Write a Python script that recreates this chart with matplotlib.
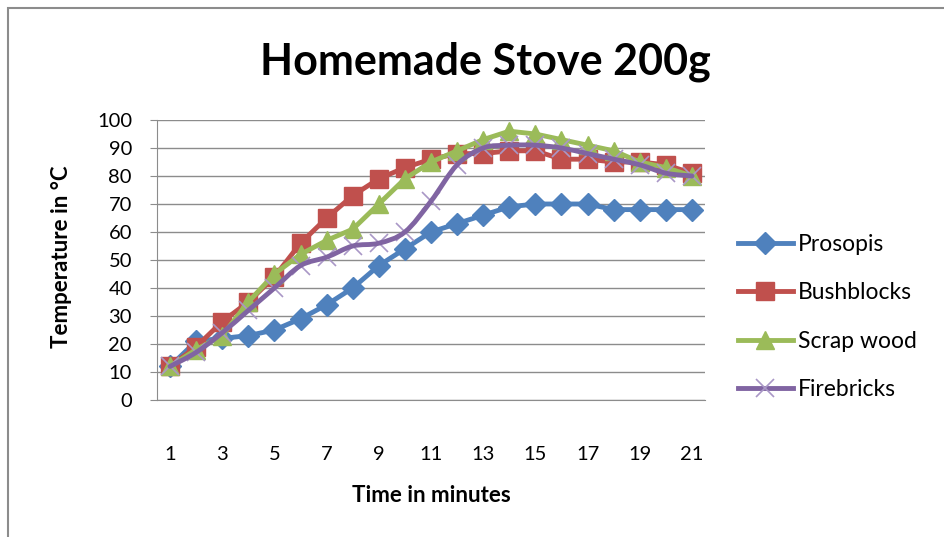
import numpy as np
import matplotlib
matplotlib.use("Agg")
import matplotlib.pyplot as plt
from matplotlib.path import Path
from matplotlib.patches import PathPatch, Rectangle

plt.rcParams['font.family'] = ['Lato', 'DejaVu Sans']

minutes = list(range(1, 22))
prosopis = [12, 21, 22, 23, 25, 29, 34, 40, 48, 54, 60, 63, 66, 69, 70, 70, 70, 68, 68, 68, 68]
bushblocks = [12, 19, 28, 35, 44, 56, 65, 73, 79, 83, 86, 88, 88, 89, 89, 86, 86, 85, 85, 84, 81]
scrap_wood = [12, 18, 23, 35, 45, 52, 57, 61, 70, 79, 85, 89, 93, 96, 95, 93, 91, 89, 85, 83, 80]
firebricks = [12, 17, 24, 32, 40, 48, 51, 55, 56, 60, 71, 84, 90, 91, 91, 90, 88, 86, 84, 81, 80]
xtick_labels = [str(m) for m in minutes[::2]]

c_blue = '#4F81BD'
c_red = '#C0504D'
c_green = '#9BBB59'
c_purple = '#8064A2'
c_xmark = '#A997C6'


def smooth_path(x, y, t=1/6):
    # catmull-rom style bezier, roughly what excel does for "smoothed line"
    x = np.asarray(x, float)
    y = np.asarray(y, float)
    verts = [(x[0], y[0])]
    codes = [Path.MOVETO]
    n = len(x)
    for i in range(n - 1):
        p0 = (x[max(i - 1, 0)], y[max(i - 1, 0)])
        p1 = (x[i], y[i])
        p2 = (x[i + 1], y[i + 1])
        p3 = (x[min(i + 2, n - 1)], y[min(i + 2, n - 1)])
        c1 = (p1[0] + (p2[0] - p0[0]) * t, p1[1] + (p2[1] - p0[1]) * t)
        c2 = (p2[0] - (p3[0] - p1[0]) * t, p2[1] - (p3[1] - p1[1]) * t)
        verts += [c1, c2, p2]
        codes += [Path.CURVE4] * 3
    return Path(verts, codes)


fig = plt.figure(figsize=(9.45, 5.37), dpi=100)
ax = fig.add_axes([157/945, 1 - 400/537, (705-157)/945, 280/537])

lw = 3.5
ax.plot(minutes, prosopis, color=c_blue, lw=lw, marker='D', ms=11,
        label='Prosopis', zorder=3)
ax.plot(minutes, bushblocks, color=c_red, lw=lw, marker='s', ms=13,
        label='Bushblocks', zorder=4)
ax.plot(minutes, scrap_wood, color=c_green, lw=lw, marker='^', ms=13,
        label='Scrap wood', zorder=5)
# firebricks: smoothed line + thin x markers
ax.plot(minutes, firebricks, ls='none', marker='x', ms=13, mew=1.2,
        mec=c_xmark, zorder=6)
ax.add_patch(PathPatch(smooth_path(minutes, firebricks), fc='none',
                       ec=c_purple, lw=lw, zorder=6, capstyle='round'))
ax.plot([], [], color=c_purple, lw=lw, marker='x', ms=13, mew=1.2,
        mec=c_xmark, label='Firebricks')

ax.set_xlim(0.5, 21.5)
ax.set_ylim(0, 100)
ax.set_yticks(range(0, 101, 10))
ax.set_xticks(minutes[::2])
ax.set_xticklabels(xtick_labels)
ax.grid(axis='y', color='#8c8c8c', lw=1)
ax.set_axisbelow(True)
for s in ['top', 'right']:
    ax.spines[s].set_visible(False)
for s in ['left', 'bottom']:
    ax.spines[s].set_color('#8c8c8c')
ax.tick_params(axis='y', length=5, color='#8c8c8c', labelsize=14.5, pad=13)
ax.tick_params(axis='x', length=0, labelsize=14.5, pad=33)

fig.text(62/945, 1 - 257/537, 'Temperature in °C', fontsize=16, fontweight='bold',
         rotation=90, ha='center', va='center')
fig.text(431/945, 1 - 495/537, 'Time in minutes', fontsize=16, fontweight='bold',
         ha='center', va='center')
fig.text(485/945, 1 - 62/537, 'Homemade Stove 200g', fontsize=31,
         fontweight='bold', ha='center', va='center')

leg = ax.legend(loc='center left', bbox_to_anchor=(738/945, 1 - 317/537),
                bbox_transform=fig.transFigure, frameon=False, borderpad=0,
                borderaxespad=0, fontsize=16.5, handlelength=2.4,
                labelspacing=1.2, handletextpad=0.2)

# chart border (top and left visible in the reference crop)
fig.patches.append(Rectangle((8/945, -0.1), 1.2, 1.1 - 8/537, transform=fig.transFigure,
                             fill=False, ec='#8c8c8c', lw=1.5))

fig.savefig('out.png', dpi=100)
